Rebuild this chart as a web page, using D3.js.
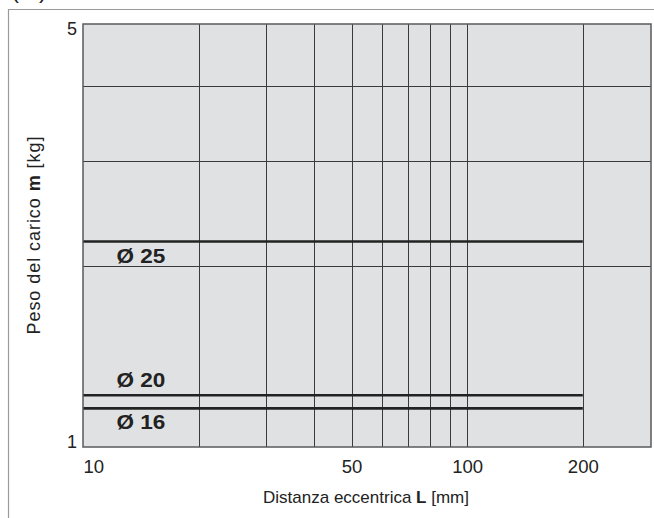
<!DOCTYPE html>
<html>
<head>
<meta charset="utf-8">
<script src="https://cdn.jsdelivr.net/npm/d3@7"></script>
<style>
  html, body { margin: 0; padding: 0; background: #fff; }
  svg { display: block; font-family: "Liberation Sans", Arial, sans-serif; }
</style>
</head>
<body>
<svg id="chart" width="654" height="518"></svg>
<script>
// Load limits per bore size: eccentric distance L [mm] vs load mass m [kg]
const bores = ["Ø 25", "Ø 20", "Ø 16"];
const massLimit = [2.2, 1.22, 1.16];
const maxDistance = [200, 200, 200];

const xTickValues = [10, 50, 100, 200];
const xGridValues = [20, 30, 40, 50, 60, 70, 80, 90, 100, 200];
const yTickValues = [1, 5];
const yGridValues = [2, 3, 4];

const W = 654, H = 518;
const margin = { top: 24, right: 3, bottom: 71, left: 83 };
const iw = W - margin.left - margin.right;
const ih = H - margin.top - margin.bottom;
const pxPerDecadeY = 600;

const svg = d3.select("#chart");

// outer panel frame (top and left edges)
svg.append("line").attr("x1", 8).attr("x2", W).attr("y1", 9.5).attr("y2", 9.5)
  .attr("stroke", "#9a9a9a").attr("stroke-width", 1.2);
svg.append("line").attr("x1", 8.5).attr("x2", 8.5).attr("y1", 9).attr("y2", H)
  .attr("stroke", "#9a9a9a").attr("stroke-width", 1.2);

// heading line running above the panel
svg.append("text").attr("x", 11).attr("y", -2)
  .attr("font-size", 24).attr("fill", "#222").text("(m)");

const g = svg.append("g").attr("transform", `translate(${margin.left},${margin.top})`);

const x = d3.scaleLog().domain([10, 301]).range([0, iw]);
const y = d3.scaleLog().domain([1, 5]).range([ih, ih - pxPerDecadeY * Math.log10(5)]);

g.append("rect").attr("width", iw).attr("height", ih).attr("fill", "#e0e1e3");

// grid
g.selectAll(".vgrid").data(xGridValues).join("line")
  .attr("x1", d => Math.round(x(d)) + 0.5).attr("x2", d => Math.round(x(d)) + 0.5)
  .attr("y1", 0).attr("y2", ih)
  .attr("stroke", "#3a3a3a").attr("stroke-width", 1);
g.selectAll(".hgrid").data(yGridValues).join("line")
  .attr("y1", d => Math.round(y(d)) + 0.5).attr("y2", d => Math.round(y(d)) + 0.5)
  .attr("x1", 0).attr("x2", iw)
  .attr("stroke", "#3a3a3a").attr("stroke-width", 1);

// load limit lines
g.selectAll(".limit").data(bores).join("line")
  .attr("x1", x(10)).attr("x2", (d, i) => x(maxDistance[i]))
  .attr("y1", (d, i) => y(massLimit[i])).attr("y2", (d, i) => y(massLimit[i]))
  .attr("stroke", "#222").attr("stroke-width", 2.6);

// bore labels, centred in the first decade cell
const labelX = (x(10) + x(20)) / 2;
g.selectAll(".blabel").data(bores).join("text")
  .attr("transform", (d, i) =>
    `translate(${labelX},${y(massLimit[i]) + (d === "Ø 20" ? -8 : 21)}) scale(1.1,1)`)
  .attr("text-anchor", "middle")
  .attr("font-size", 20.5).attr("font-weight", "bold").attr("fill", "#222")
  .text(d => d);

// plot border
g.append("rect").attr("width", iw).attr("height", ih)
  .attr("fill", "none").attr("stroke", "#5a5a5a").attr("stroke-width", 1.5);

// x axis
const xAxis = g.append("g").attr("transform", `translate(0,${ih})`)
  .call(d3.axisBottom(x).tickValues(xTickValues).tickSize(0).tickPadding(14)
    .tickFormat(d3.format("d")));
xAxis.select(".domain").remove();
xAxis.selectAll("text").attr("font-size", 17.5).attr("fill", "#222")
  .attr("font-family", "'Liberation Sans', Arial, sans-serif")
  .attr("text-anchor", d => d === 10 ? "start" : "middle")
  .attr("transform", "scale(1.06,1)");

// y axis
const yAxis = g.append("g")
  .call(d3.axisLeft(y).tickValues(yTickValues).tickSize(0).tickPadding(6)
    .tickFormat(d3.format("d")));
yAxis.select(".domain").remove();
yAxis.selectAll("text").attr("font-size", 18).attr("fill", "#222")
  .attr("font-family", "'Liberation Sans', Arial, sans-serif")
  .attr("dy", d => d === 5 ? "0.38em" : "0.05em")
  .attr("y", 0);

// axis titles
const xt = svg.append("text").attr("x", margin.left + iw / 2 - 1).attr("y", 503)
  .attr("text-anchor", "middle").attr("font-size", 17).attr("fill", "#222");
xt.append("tspan").text("Distanza eccentrica ");
xt.append("tspan").attr("font-weight", "bold").text("L");
xt.append("tspan").text(" [mm]");

const yt = svg.append("text")
  .attr("transform", `translate(40,${margin.top + ih / 2}) rotate(-90)`)
  .attr("text-anchor", "middle").attr("font-size", 18).attr("fill", "#222")
  .attr("textLength", 198).attr("lengthAdjust", "spacing");
yt.append("tspan").text("Peso del carico ");
yt.append("tspan").attr("font-weight", "bold").text("m");
yt.append("tspan").text(" [kg]");
</script>
</body>
</html>
